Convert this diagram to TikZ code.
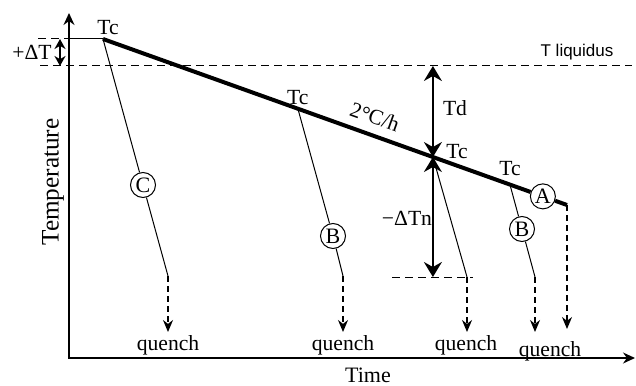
\documentclass[tikz,border=0pt]{standalone}
\usepackage{fontspec}
\setmainfont{Liberation Serif}
\newfontfamily\liqfont{Liberation Sans}
\usepackage{tikz}
\usetikzlibrary{arrows.meta, positioning}

\begin{document}
\begin{tikzpicture}[
  x=0.5pt, y=-0.5pt,
  lbl/.style={font=\fontsize{10.8}{12}\selectfont, inner sep=1pt},
  tag/.style={circle, draw, line width=0.5pt, inner sep=0pt,
              minimum size=12.5pt, font=\fontsize{11}{12}\selectfont},
  axis/.style={line width=0.7pt, {Stealth[length=6pt,width=5.5pt]}-{Stealth[length=6pt,width=5.5pt]}},
  ramp/.style={line width=2pt},
  cool/.style={line width=0.5pt},
  ref/.style={line width=0.5pt, dash pattern=on 4pt off 2.5pt},
  quench/.style={line width=0.6pt, dash pattern=on 3pt off 2pt,
                 -{Stealth[length=6pt,width=5pt]}},
  dim/.style={line width=0.9pt,
              {Stealth[length=7.5pt,width=9pt,inset=2.5pt]}-{Stealth[length=7.5pt,width=9pt,inset=2.5pt]}},
  smalldim/.style={line width=0.8pt,
              {Stealth[length=5pt,width=5.5pt]}-{Stealth[length=5pt,width=5.5pt]}}
]
\useasboundingbox (0,0) rectangle (636,385);

% axes
\coordinate (O) at (69,358);
\coordinate (ytop) at (69,13);
\coordinate (xend) at (635,358);
\draw[axis] (ytop) -- (O) -- (xend);
\node[lbl, font=\fontsize{12.6}{14}\selectfont, rotate=90] (temp) at (53,182) {Temperature};
\node[lbl, font=\fontsize{11}{12}\selectfont] (time) at (368,375) {Time};

% reference levels
\coordinate (tc1) at (103,39);
\coordinate (endA) at (567,205);
\coordinate (refL) at (38,39);
\coordinate (liqL) at (40,66);
\coordinate (liqR) at (632,66);
\draw[ref] (refL) -- (O |- refL);
\draw[ref] (liqL) -- (liqR);
\node[lbl, font=\liqfont\fontsize{8.5}{10}\selectfont] (liq) at (577,52) {T liquidus};

% superheat
\coordinate (dTt) at (60,39);
\draw[smalldim] (dTt) -- (dTt |- liqL);
\node[lbl] (plusdT) at (32,52) {+ΔT};

% slow cooling ramp
\draw[cool] (O |- tc1) -- (tc1);
\path (tc1) -- (endA)
  coordinate[pos=0.42] (tc2)
  coordinate[pos=0.711] (tc3)
  coordinate[pos=0.877] (tc4)
  coordinate[pos=0.948] (pA);
\node[tag] (tagA) at (pA) {A};
\draw[ramp] (tc1) -- (tagA) -- (endA);
\node[lbl, rotate=-19.7] (rate) at (375,117) {2°C/h};

\node[lbl, above=1pt of tc1, xshift=2.5pt] (lc1) {Tc};
\node[lbl, above=1pt of tc2] (lc2) {Tc};
\node[lbl] (lc3) at (457,152) {Tc};
\node[lbl, above=3pt of tc4] (lc4) {Tc};

% quench paths
\coordinate (qC) at (168,276);
\coordinate (qB1) at (343,276);
\coordinate (qN) at (467,277);
\coordinate (qB2) at (535,277);
\node[tag] (tagC) at (143,185) {C};
\node[tag] (tagB1) at (333,236) {B};
\node[tag] (tagB2) at (522,229) {B};
\draw[cool] (tc1) -- (tagC) -- (qC);
\draw[cool] (tc2) -- (tagB1) -- (qB1);
\draw[cool] (tc3) -- (qN);
\draw[cool] (tc4) -- (tagB2) -- (qB2);

\node[lbl] (quC) at (168,345) {quench};
\node[lbl] (quB1) at (343,345) {quench};
\node[lbl] (quN) at (466,345) {quench};
\node[lbl] (quA) at (550,351) {quench};
\draw[quench] (qC) -- (qC |- 0,332);
\draw[quench] (qB1) -- (qB1 |- 0,332);
\draw[quench] (qN) -- (qN |- 0,332);
\draw[quench] (qB2) -- (qB2 |- 0,332);
\draw[quench] (endA) -- (endA |- 0,329);

% undercooling
\coordinate (cutL) at (392,277);
\coordinate (cutR) at (473,277);
\draw[ref] (cutL) -- (cutR);
\draw[dim] (tc3 |- liqL) -- (tc3);
\draw[dim] (tc3) -- (tc3 |- cutL);
\node[lbl] (td) at (455,108) {Td};
\node[lbl] (dTn) at (407,218) {−ΔTn};
\end{tikzpicture}
\end{document}
